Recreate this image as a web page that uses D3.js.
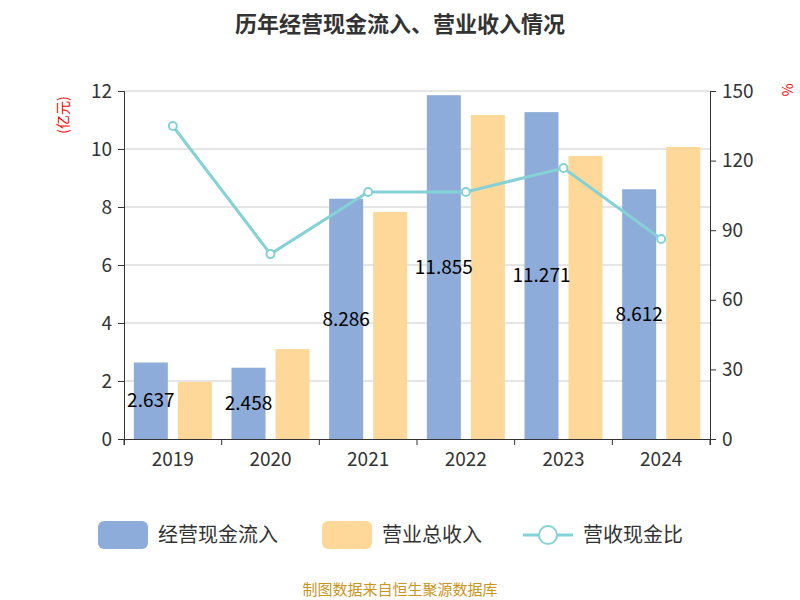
<!DOCTYPE html>
<html><head><meta charset="utf-8">
<script src="https://cdn.jsdelivr.net/npm/d3@7"></script>
<style>body{margin:0;background:#fff;font-family:"Noto Sans CJK SC","Noto Sans",sans-serif}</style>
</head><body><div id="chart"></div>
<script>
/** Chart data */
const years = ["2019", "2020", "2021", "2022", "2023", "2024"];
const cashInflow = [2.637, 2.458, 8.286, 11.855, 11.271, 8.612];
const revenue = [1.97, 3.10, 7.83, 11.17, 9.76, 10.07];
const ratio = [134.9, 79.7, 106.5, 106.5, 116.8, 86.2];
const leftTicks = [0, 2, 4, 6, 8, 10, 12];
const rightTicks = [0, 30, 60, 90, 120, 150];

const width = 800, height = 600;
const plotLeft = 124, plotRight = 710, plotTop = 91, plotBottom = 439;
const font = '"Noto Sans CJK SC","Noto Sans",sans-serif';

const svg = d3.select("#chart").append("svg").attr("width", width).attr("height", height)
  .style("font-family", font);

/** Scales */
const x = d3.scaleBand().domain(years).range([plotLeft, plotRight]);
const yL = d3.scaleLinear().domain([0, 12]).range([plotBottom, plotTop]);
const yR = d3.scaleLinear().domain([0, 150]).range([plotBottom, plotTop]);

/** Title */
svg.append("text").attr("x", 400).attr("y", 32).attr("text-anchor", "middle")
  .attr("font-size", 22).attr("font-weight", "bold").attr("fill", "#333").text("历年经营现金流入、营业收入情况");

/** Grid lines */
svg.selectAll(".grid").data(leftTicks.slice(1)).enter().append("line")
  .attr("x1", plotLeft).attr("x2", plotRight).attr("y1", d => yL(d)).attr("y2", d => yL(d))
  .attr("stroke", "#ccc");

/** Axes */
const axL = svg.append("g").attr("transform", `translate(${plotLeft},0)`)
  .call(d3.axisLeft(yL).tickValues(leftTicks).tickSize(6).tickPadding(6));
const axR = svg.append("g").attr("transform", `translate(${plotRight},0)`)
  .call(d3.axisRight(yR).tickValues(rightTicks).tickSize(6).tickPadding(6));
const axB = svg.append("g").attr("transform", `translate(0,${plotBottom})`)
  .call(d3.axisBottom(x).tickSize(6).tickPadding(8));
axB.selectAll(".tick line").attr("transform", `translate(${-x.bandwidth() / 2},0)`);
axB.append("line").attr("x1", plotRight).attr("x2", plotRight).attr("y1", 0).attr("y2", 6).attr("stroke", "#333");
[axL, axR, axB].forEach(a => {
  a.selectAll("text").attr("font-size", 19).attr("fill", "#333").style("font-family", font);
  a.selectAll("line,path").attr("stroke", "#333");
});

/** Axis units */
svg.append("text").attr("transform", "translate(68,115) rotate(-90)").attr("text-anchor", "middle")
  .attr("font-size", 14).attr("fill", "red").text("(亿元)");
svg.append("text").attr("transform", "translate(782,90) rotate(90)").attr("text-anchor", "middle")
  .attr("font-size", 14).attr("fill", "red").text("%");

/** Bars */
const bw = 34, gap = 10;
svg.selectAll(".b1").data(cashInflow).enter().append("rect")
  .attr("x", (d, i) => x(years[i]) + x.bandwidth() / 2 - gap / 2 - bw)
  .attr("y", d => yL(d)).attr("width", bw).attr("height", d => plotBottom - yL(d)).attr("fill", "#8eacd9");
svg.selectAll(".b2").data(revenue).enter().append("rect")
  .attr("x", (d, i) => x(years[i]) + x.bandwidth() / 2 + gap / 2)
  .attr("y", d => yL(d)).attr("width", bw).attr("height", d => plotBottom - yL(d)).attr("fill", "#fdd898");

/** Line */
const line = d3.line().x((d, i) => x(years[i]) + x.bandwidth() / 2).y(d => yR(d));
svg.append("path").datum(ratio).attr("d", line).attr("fill", "none").attr("stroke", "#84d1d6").attr("stroke-width", 3);
svg.selectAll(".pt").data(ratio).enter().append("circle")
  .attr("cx", (d, i) => x(years[i]) + x.bandwidth() / 2).attr("cy", d => yR(d)).attr("r", 4)
  .attr("fill", "#fff").attr("stroke", "#84d1d6").attr("stroke-width", 2);

/** Value labels */
svg.selectAll(".lbl").data(cashInflow).enter().append("text")
  .attr("x", (d, i) => x(years[i]) + x.bandwidth() / 2 - gap / 2 - bw / 2)
  .attr("y", d => (yL(d) + plotBottom) / 2).attr("dy", "0.35em").attr("text-anchor", "middle")
  .attr("font-size", 19).attr("fill", "#000").text(d => d);

/** Legend */
const lg = svg.append("g").attr("transform", "translate(0,535)");
lg.append("rect").attr("x", 98).attr("y", -14).attr("width", 50).attr("height", 28).attr("rx", 6).attr("fill", "#8eacd9");
lg.append("text").attr("x", 158).attr("y", 0).attr("dy", "0.35em").attr("font-size", 20).attr("fill", "#333").text("经营现金流入");
lg.append("rect").attr("x", 322).attr("y", -14).attr("width", 50).attr("height", 28).attr("rx", 6).attr("fill", "#fdd898");
lg.append("text").attr("x", 382).attr("y", 0).attr("dy", "0.35em").attr("font-size", 20).attr("fill", "#333").text("营业总收入");
lg.append("line").attr("x1", 523).attr("x2", 573).attr("y1", 0).attr("y2", 0).attr("stroke", "#84d1d6").attr("stroke-width", 3);
lg.append("circle").attr("cx", 548).attr("cy", 0).attr("r", 9).attr("fill", "#fff").attr("stroke", "#84d1d6").attr("stroke-width", 2);
lg.append("text").attr("x", 583).attr("y", 0).attr("dy", "0.35em").attr("font-size", 20).attr("fill", "#333").text("营收现金比");

/** Footer */
svg.append("text").attr("x", 400).attr("y", 595).attr("text-anchor", "middle")
  .attr("font-size", 15).attr("fill", "#c8961e").text("制图数据来自恒生聚源数据库");
</script></body></html>
